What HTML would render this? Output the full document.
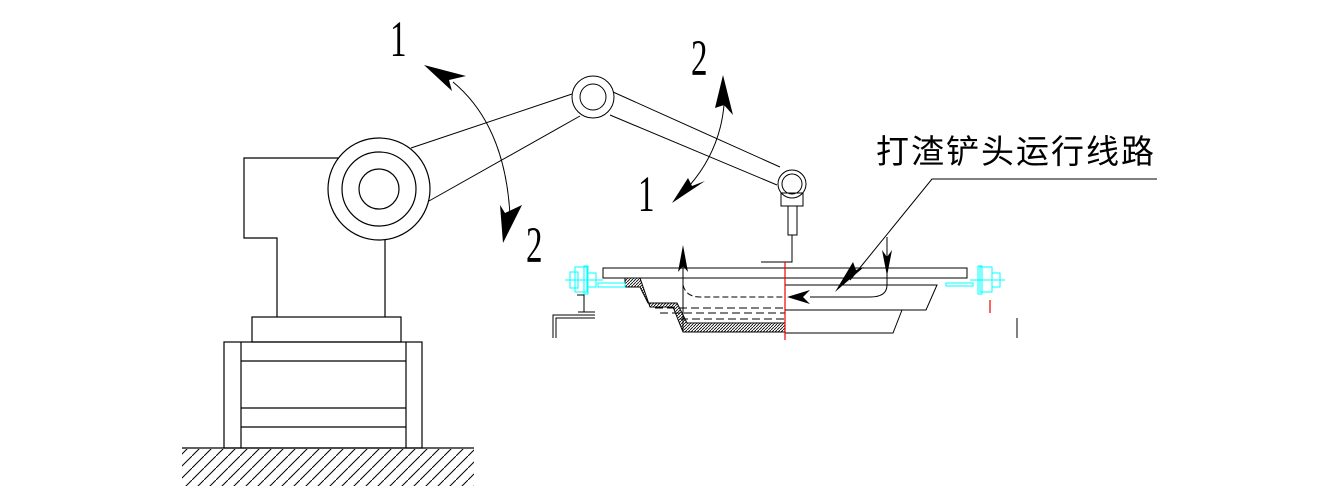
<!DOCTYPE html>
<html><head><meta charset="utf-8"><style>body{margin:0;background:#fff}svg{display:block}</style></head>
<body>
<svg width="1338" height="496" viewBox="0 0 1338 496" xmlns="http://www.w3.org/2000/svg">
<defs>
<pattern id="hg" width="12" height="12" patternUnits="userSpaceOnUse"><path d="M0,12 L12,0" stroke="#000" stroke-width="1"/></pattern>
<pattern id="hs" width="3" height="3" patternUnits="userSpaceOnUse"><path d="M0,3 L3,0" stroke="#000" stroke-width="0.8"/></pattern>
</defs>
<g fill="none" stroke="#000" stroke-width="1.2">
<path d="M338,158 L244,158 L244,238 L277,238 L277,317"/>
<path d="M385,240 L385,317"/>
<circle cx="379" cy="189" r="51" fill="#fff"/>
<circle cx="379" cy="189" r="37"/>
<circle cx="379" cy="189" r="20"/>
<rect x="252" y="317" width="149" height="25"/>
<rect x="224" y="342" width="198" height="106"/>
<path d="M241,342 V448 M406,342 V448 M241,361 H406 M241,408 H406 M241,427 H406"/>
<path d="M182,448 H474"/>
</g>
<rect x="182" y="449" width="292" height="37" fill="url(#hg)"/>
<g fill="none" stroke="#000" stroke-width="1">
<path d="M411,148 L572,94 M429,201 L580,116"/>
<circle cx="593" cy="97" r="21" fill="#fff"/>
<circle cx="593" cy="97" r="13"/>
<path d="M613,92 L780,167 M610,115 L777,185"/>
<circle cx="792" cy="184" r="14" fill="#fff"/>
<circle cx="792" cy="184" r="10"/>
<rect x="781" y="193" width="22" height="13"/>
<rect x="788" y="206" width="9" height="29"/>
<path d="M792,235 V262 H761"/>
<path d="M453,82 Q505,125 510,215"/>
<path d="M724,105 Q720,150 690,185"/>
<path d="M1157,179 H932 L850,280"/>
</g>
<g fill="#000">
<path d="M424,65 L466,76 L449,80 L452,91 Z"/>
<path d="M503,243 L500,205 L505,213 L522,205 Z"/>
<path d="M723,75 L733,115 L724,105 L715,108 Z"/>
<path d="M672,203 L688,178 L692,186 L705,181 Z"/>
<path d="M835,292 L853,262 L856,270 L864,267 Z"/>
</g>
<g font-family="Liberation Serif, serif" font-size="44" fill="#000">
<text transform="translate(390,56) scale(0.75,1.15)">1</text>
<text transform="translate(691,75) scale(0.75,1.15)">2</text>
<text transform="translate(638,211) scale(0.75,1.15)">1</text>
<text transform="translate(526,262) scale(0.75,1.15)">2</text>
</g>
<text x="876" y="163" font-family="Liberation Sans, 'Noto Sans CJK SC', sans-serif" font-size="33" fill="#000" letter-spacing="2">打渣铲头运行线路</text>
<path d="M625,278 L640,278 L650,307 L673,307 L683,332 L785,332 L785,323 L687,323 L677,303 L648,303 L640,287 L625,287 Z" fill="url(#hs)" stroke="#000" stroke-width="1"/>
<g fill="none" stroke="#000" stroke-width="1">
<rect x="603" y="268" width="364" height="10"/>
<path d="M785,285 H937 L926,310 H785 M902,310 L893,333 H785"/>
<path d="M683,330 V250"/>
<path d="M683,285 Q686,297 700,297 H785" stroke-dasharray="6,3"/>
<path d="M810,297 H870 Q887,297 887,285 V237"/>
<path d="M655,308 H785 M660,313 H785 M680,319 H785" stroke-dasharray="8,4"/>
<path d="M553,338 V315 H595 M556,338 V318 H595"/>
<path d="M577,295 H584 V312 H590 M578,312 H595"/>
<path d="M1017,318 V338"/>
</g>
<g fill="#000">
<path d="M683,245 L688,272 L683,266 L678,272 Z"/>
<path d="M787,297 L810,290 L803,297 L810,304 Z"/>
<path d="M887,276 L882,250 L887,257 L892,250 Z"/>
</g>
<path d="M785,262 V340" stroke="#e00" stroke-width="1.2"/>
<path d="M990,300 V313" stroke="#e00" stroke-width="1.2"/>
<g fill="none" stroke="#0ff" stroke-width="1">
<path d="M565,280 H603"/><rect x="570" y="272" width="8" height="16"/><rect x="575" y="267" width="12" height="25"/><rect x="584" y="266" width="4" height="28"/><rect x="588" y="273" width="8" height="14"/>
<path d="M598,283 H625 V287 H598 Z"/>
<path d="M970,280 H1005"/><rect x="980" y="267" width="12" height="25"/><rect x="978" y="266" width="4" height="28"/><rect x="992" y="273" width="8" height="14"/>
<path d="M946,286 H973 V283 H946 Z"/>
</g>
</svg>
</body></html>
